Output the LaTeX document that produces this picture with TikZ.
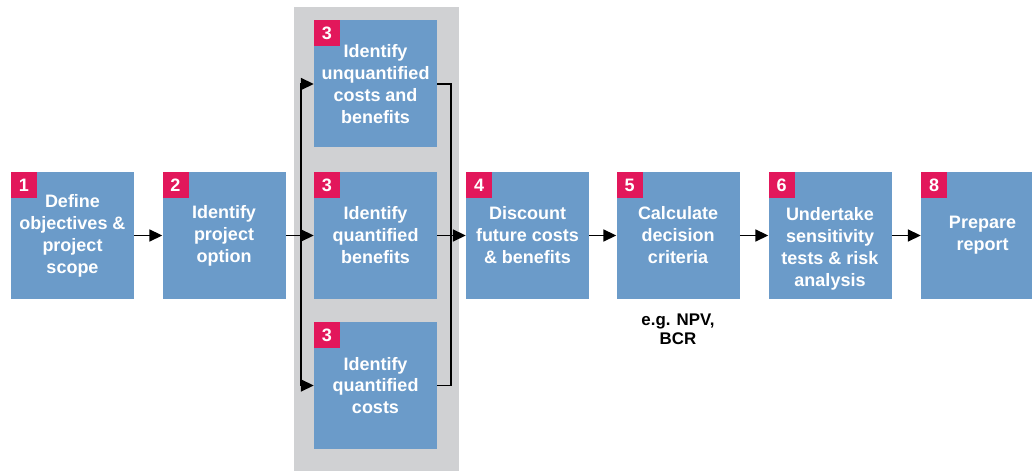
\documentclass[tikz,border=0pt]{standalone}
\usepackage{fontspec}
\setmainfont{Liberation Sans}
\usetikzlibrary{arrows.meta}

\definecolor{boxblue}{HTML}{6B9BC9}
\definecolor{badgepink}{HTML}{E2175B}
\definecolor{panelgrey}{HTML}{D0D1D3}

\tikzset{
  stepbox/.style={fill=boxblue, text=white, minimum width=3.075cm, minimum height=3.175cm,
    inner sep=0pt, align=center, font=\fontsize{12.8}{15.6}\selectfont\bfseries},
  badge/.style={fill=badgepink, text=white, minimum size=0.65cm, inner sep=0pt,
    anchor=north west, font=\fontsize{12.8}{15.6}\selectfont\bfseries},
  flow/.style={-{Triangle[length=0.32cm,width=0.3cm]}, line width=1.1pt},
  link/.style={line width=1.1pt}
}

\begin{document}
\begin{tikzpicture}
    \clip (0,0) rectangle (25.8,11.775);
    \fill[white] (0,0) rectangle (25.8,11.775);

    % grey panel behind step 3
    \fill[panelgrey] (7.35,0) rectangle (11.475,11.6);

    % process steps
    \node[stepbox] (b1) at (1.8125,5.8875) {Define\\objectives \&\\project\\scope};
    \node[stepbox] (b2) at (5.6,5.8875) {Identify\\project\\option};
    \node[stepbox] (b3a) at (9.3875,9.675) {Identify\\unquantified\\costs and\\benefits};
    \node[stepbox] (b3b) at (9.3875,5.8875) {Identify\\quantified\\benefits};
    \node[stepbox] (b3c) at (9.3875,2.1375) {Identify\\quantified\\costs};
    \node[stepbox] (b4) at (13.1875,5.8875) {Discount\\future costs\\\& benefits};
    \node[stepbox] (b5) at (16.95,5.8875) {Calculate\\decision\\criteria};
    \node[stepbox] (b6) at (20.75,5.8875) {\mbox{}\\[12.8pt]Undertake\\sensitivity\\tests \& risk\\analysis};
    \node[stepbox] (b8) at (24.5625,5.8875) {Prepare\\report};

    % step numbers
    \foreach \b/\k in {b1/1, b2/2, b3a/3, b3b/3, b3c/3, b4/4, b5/5, b6/6, b8/8} {
        \node[badge] (n\b) at (\b.north west) {\k};
    }

    \node[align=center, font=\fontsize{12}{13.6}\selectfont\bfseries] (note) at (16.95,3.5375) {e.g. NPV,\\BCR};

    % connectors
    \coordinate (split) at (7.525,5.8875);
    \coordinate (join) at (11.275,5.8875);

    \draw[flow] (b1) -- (b2);
    \draw[link] (b2) -- (split);
    \draw[flow] (split) |- (b3a.west);
    \draw[flow] (split) -- (b3b);
    \draw[flow] (split) |- (b3c.west);
    \draw[link] (b3a.east) -| (join);
    \draw[link] (b3b) -- (join);
    \draw[link] (b3c.east) -| (join);
    \draw[flow] (join) -- (b4);
    \draw[flow] (b4) -- (b5);
    \draw[flow] (b5) -- (b6);
    \draw[flow] (b6) -- (b8);
\end{tikzpicture}
\end{document}
